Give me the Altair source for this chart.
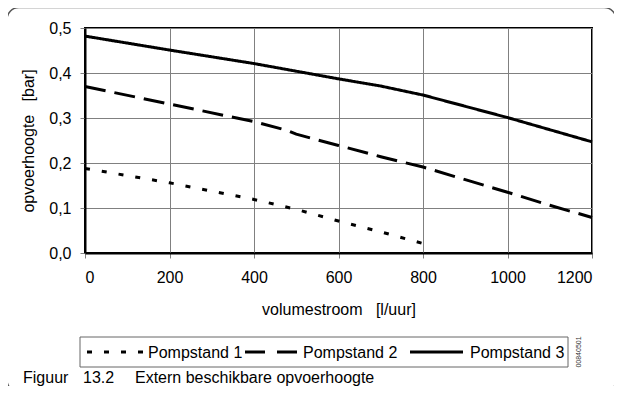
import altair as alt
import pandas as pd

# ---- data ----
p1_x = [0, 200, 400, 500, 600, 700, 800]
p1_y = [0.188, 0.156, 0.119, 0.097, 0.071, 0.047, 0.021]

p2_x = [0, 200, 400, 480, 500, 600, 700, 800, 900, 1000, 1100, 1200]
p2_y = [0.370, 0.331, 0.292, 0.272, 0.264, 0.239, 0.214, 0.191, 0.163, 0.135, 0.106, 0.079]

p3_x = [0, 200, 400, 600, 700, 800, 900, 1000, 1100, 1200]
p3_y = [0.482, 0.451, 0.421, 0.387, 0.371, 0.351, 0.326, 0.301, 0.274, 0.247]

series_names = ["Pompstand 1", "Pompstand 2", "Pompstand 3"]
x_ticks = [0, 200, 400, 600, 800, 1000, 1200]
y_ticks = [0.0, 0.1, 0.2, 0.3, 0.4, 0.5]

x_title = "volumestroom\u00a0\u00a0\u00a0[l/uur]"
y_title = "opvoerhoogte\u00a0\u00a0\u00a0[bar]"
caption_num = "Figuur"
caption_id = "13.2"
caption_text = "Extern beschikbare opvoerhoogte"
doc_code = "00840501"

dash_p1 = [5, 12]
dash_p2 = [21, 9]
dash_p3 = [1, 0]

rows = []
for name, xs, ys in zip(series_names, [p1_x, p2_x, p3_x], [p1_y, p2_y, p3_y]):
    for i, (x, y) in enumerate(zip(xs, ys)):
        rows.append({"serie": name, "flow": x, "head": y, "order": i})
df = pd.DataFrame(rows)

FONT = "Liberation Sans"
one = pd.DataFrame({"a": [0]})

frame = alt.Chart(one).mark_rect(
    fillOpacity=0, stroke="#555555", strokeWidth=1.5, cornerRadius=12
).encode(
    x=alt.value(-78), x2=alt.value(531), y=alt.value(-20.5), y2=alt.value(364)
)

lines = alt.Chart(df).mark_line(color="black", strokeWidth=3, strokeCap="butt").encode(
    x=alt.X("flow:Q", scale=alt.Scale(domain=[0, 1200], nice=False),
            axis=alt.Axis(values=x_ticks, title=x_title, format="d",
                          labelPadding=11, titlePadding=16)),
    y=alt.Y("head:Q", scale=alt.Scale(domain=[0, 0.5], nice=False),
            axis=alt.Axis(values=y_ticks, title=y_title,
                          labelExpr="replace(format(datum.value, '.1f'), '.', ',')",
                          labelPadding=9, titlePadding=12)),
    strokeDash=alt.StrokeDash(
        "serie:N",
        scale=alt.Scale(domain=series_names, range=[dash_p1, dash_p2, dash_p3]),
        legend=None,
    ),
    detail="serie:N",
    order="order:Q",
)

# ---- hand-made legend box (horizontal, framed) ----
legend_box = alt.Chart(one).mark_rect(
    fillOpacity=0, stroke="#666666", strokeWidth=1
).encode(x=alt.value(-5), x2=alt.value(483), y=alt.value(309), y2=alt.value(339))


def legend_rule(x1, x2, dash):
    return alt.Chart(one).mark_rule(color="black", strokeWidth=3, strokeDash=dash, strokeCap="butt").encode(
        x=alt.value(x1), x2=alt.value(x2), y=alt.value(324)
    )


def legend_text(x, label):
    return alt.Chart(one).mark_text(
        font=FONT, fontSize=16, align="left", baseline="middle", color="black"
    ).encode(x=alt.value(x), y=alt.value(325), text=alt.value(label))


leg = [
    legend_box,
    legend_rule(2, 60, dash_p1), legend_text(63, series_names[0]),
    legend_rule(160, 212, [20, 12]), legend_text(218, series_names[1]),
    legend_rule(325, 378, dash_p3), legend_text(385, series_names[2]),
]


def cap(x, s):
    return alt.Chart(one).mark_text(
        font=FONT, fontSize=16, align="left", baseline="alphabetic", color="black"
    ).encode(x=alt.value(x), y=alt.value(355), text=alt.value(s))


caps = [cap(-62, caption_num), cap(-2, caption_id), cap(50, caption_text)]

code = alt.Chart(one).mark_text(
    font=FONT, fontSize=7, align="center", baseline="middle", angle=270, color="#333333"
).encode(x=alt.value(494), y=alt.value(324), text=alt.value(doc_code))

chart = alt.layer(frame, lines, *leg, *caps, code).properties(
    width=507, height=225,
    autosize=alt.AutoSizeParams(type="none"),
    padding={"left": 77, "top": 20, "right": 22, "bottom": 133},
).configure_view(
    stroke="black", strokeWidth=2
).configure_axis(
    labelFont=FONT, titleFont=FONT, labelFontSize=16, titleFontSize=16,
    labelColor="black", titleColor="black", titleFontWeight="normal",
    gridColor="#808080", gridWidth=1, gridOpacity=1,
    domainColor="black", domainWidth=2,
    tickColor="#808080", tickSize=5, tickWidth=1,
)

chart.save("out.html", embed_options={"renderer": "svg", "actions": False})
